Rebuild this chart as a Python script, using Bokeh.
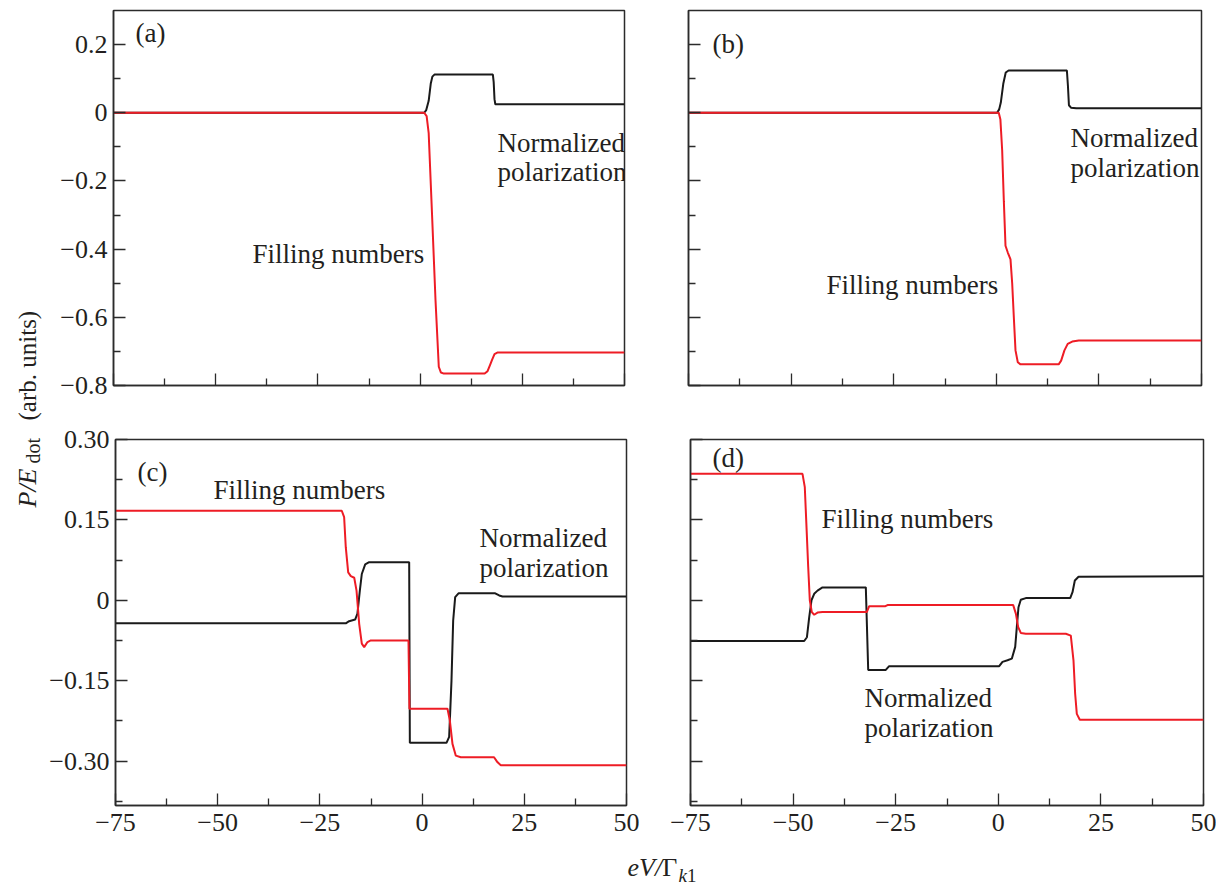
import math
from bokeh.plotting import figure
from bokeh.models import Range1d, FixedTicker, CustomJSTickFormatter, Label
from bokeh.layouts import row, column
from bokeh.embed import file_html
from bokeh.resources import INLINE

FONT = "Liberation Serif"
TXT = "#231f20"
RED = "#ee1c25"
BLK = "#1a1a1a"
FRAME = "#2b2b2b"

# ---------------- data ----------------
x_ticks = [-75, -50, -25, 0, 25, 50]
x_minor = [-62.5, -37.5, -12.5, 12.5, 37.5]
top_y_ticks = [-0.8, -0.6, -0.4, -0.2, 0.0, 0.2]
top_y_minor = [-0.7, -0.5, -0.3, -0.1, 0.1]
bot_y_ticks = [-0.30, -0.15, 0.0, 0.15, 0.30]
bot_y_minor = [-0.375, -0.225, -0.075, 0.075, 0.225]

# panel (a)
a_black_x = [-75, 1.0, 1.5, 2.1, 2.6, 3.0, 3.5, 17.8, 18.0, 18.2, 18.4, 50]
a_black_y = [0, 0, 0.008, 0.035, 0.085, 0.106, 0.112, 0.112, 0.09, 0.04, 0.025, 0.025]
a_red_x = [-75, 1.0, 1.6, 2.1, 2.96, 3.77, 4.57, 5.1, 5.8, 15.8, 16.5, 17.1, 17.6, 18.2, 19.0, 50]
a_red_y = [0, 0, -0.01, -0.06, -0.31, -0.55, -0.745, -0.762, -0.765, -0.765, -0.758, -0.74,
           -0.725, -0.708, -0.703, -0.703]

# panel (b)
b_black_x = [-75, 0.2, 0.7, 1.1, 1.7, 2.3, 3.0, 17.2, 17.45, 17.7, 18.2, 19.5, 50]
b_black_y = [0, 0, 0.01, 0.03, 0.085, 0.118, 0.124, 0.124, 0.08, 0.022, 0.015, 0.013, 0.013]
b_red_x = [-75, 0.6, 1.0, 1.43, 1.84, 2.24, 2.8, 3.46, 3.87, 4.27, 4.68, 5.24, 5.9, 15.2, 15.8,
           16.6, 17.4, 18.5, 20.1, 50]
b_red_y = [0, 0, -0.02, -0.11, -0.26, -0.39, -0.41, -0.43, -0.5, -0.6, -0.697, -0.732, -0.738,
           -0.738, -0.727, -0.697, -0.678, -0.671, -0.668, -0.668]

# panel (c)
c_black_x = [-75, -18.67, -17.85, -16.38, -15.82, -15.23, -14.75, -13.92, -12.95, -3.16, -3.0,
             5.97, 6.62, 7.19, 7.6, 8.09, 8.9, 17.88, 18.86, 19.67, 50]
c_black_y = [-0.043, -0.043, -0.039, -0.036, -0.025, 0.018, 0.049, 0.067, 0.071, 0.071, -0.266,
             -0.266, -0.255, -0.15, -0.038, 0.006, 0.013, 0.013, 0.009, 0.007, 0.007]
c_red_x = [-75, -19.65, -19.07, -18.67, -18.08, -17.44, -16.6, -16.04, -15.39, -14.75, -14.17,
           -13.36, -12.55, -3.33, -3.1, 6.21, 6.78, 7.43, 8.25, 9.47, 17.6, 18.41, 19.25, 50]
c_red_y = [0.167, 0.167, 0.155, 0.099, 0.052, 0.045, 0.042, 0.018, -0.044, -0.081, -0.0875,
           -0.078, -0.075, -0.075, -0.2025, -0.2025, -0.224, -0.268, -0.29, -0.293, -0.293,
           -0.302, -0.308, -0.308]

# panel (d)
d_black_x = [-75, -47.3, -46.63, -46.08, -45.52, -44.86, -44.05, -42.84, -32.28, -31.7, -27.41,
             -26.6, 0.22, 1.02, 2.24, 3.29, 4.12, 4.51, 4.92, 5.48, 6.7, 17.52, 18.08, 18.65,
             19.55, 50]
d_black_y = [-0.076, -0.076, -0.069, -0.032, 0.0, 0.012, 0.018, 0.024, 0.024, -0.13, -0.13,
             -0.123, -0.123, -0.115, -0.112, -0.109, -0.087, -0.05, -0.013, 0.001, 0.004, 0.004,
             0.015, 0.037, 0.044, 0.045]
d_red_x = [-75, -47.71, -47.15, -46.73, -46.32, -45.93, -45.44, -44.86, -44.05, -42.84, -32.04,
           -31.46, -27.5, -27.0, 3.63, 4.28, 4.85, 5.48, 6.7, 16.45, 17.67, 18.32, 18.73, 19.13,
           19.86, 50]
d_red_y = [0.236, 0.236, 0.211, 0.136, 0.062, 0.0, -0.022, -0.027, -0.023, -0.022, -0.022,
           -0.011, -0.011, -0.009, -0.009, -0.025, -0.05, -0.061, -0.0625, -0.0625, -0.066,
           -0.112, -0.175, -0.212, -0.223, -0.223]

# ---------------- helpers ----------------
num_fmt = """
if (Math.abs(tick) < 1e-9) { return "0"; }
const s = Math.abs(tick).toFixed(digits);
return (tick < 0 ? "\\u2212" : "") + s;
"""


def make_fig(fw, fh, bl, br, bt, bb, yr, yt, ym, show_x, show_y, ydig):
    p = figure(frame_width=fw, frame_height=fh, min_border_left=bl, min_border_right=br,
               min_border_top=bt, min_border_bottom=bb,
               x_range=Range1d(-75, 50), y_range=Range1d(*yr),
               output_backend="svg", toolbar_location=None)
    p.xgrid.visible = False
    p.ygrid.visible = False
    p.outline_line_color = FRAME
    p.outline_line_width = 1.5
    p.outline_line_alpha = 1.0
    p.background_fill_color = "white"
    p.border_fill_color = "white"
    p.xaxis.ticker = FixedTicker(ticks=x_ticks, minor_ticks=x_minor)
    p.yaxis.ticker = FixedTicker(ticks=yt, minor_ticks=ym)
    if show_x:
        p.xaxis.formatter = CustomJSTickFormatter(args=dict(digits=0), code=num_fmt)
    else:
        p.xaxis.formatter = CustomJSTickFormatter(code="return '';")
    if show_y:
        p.yaxis.formatter = CustomJSTickFormatter(args=dict(digits=ydig), code=num_fmt)
    else:
        p.yaxis.formatter = CustomJSTickFormatter(code="return '';")
    for ax in (p.xaxis[0], p.yaxis[0]):
        ax.axis_line_color = FRAME
        ax.axis_line_width = 1.5
        ax.major_tick_line_color = FRAME
        ax.minor_tick_line_color = FRAME
        ax.major_tick_line_width = 1.3
        ax.minor_tick_line_width = 1.3
        ax.major_tick_in = 12
        ax.major_tick_out = 0
        ax.minor_tick_in = 7
        ax.minor_tick_out = 0
        ax.major_label_text_font = FONT
        ax.major_label_text_font_size = "26px"
        ax.major_label_text_color = TXT
    p.xaxis.major_label_standoff = 8
    p.yaxis.major_label_standoff = 6
    return p


def add_text(p, x, y, text, size="27px", style="normal", baseline="middle", angle=0.0):
    p.add_layout(Label(x=x, y=y, text=text, text_font=FONT,
                       text_font_size=size, text_font_style=style, text_color=TXT,
                       text_align="left", text_baseline=baseline, angle=angle))


def draw(p, bx, by, rx, ry):
    p.line(bx, by, line_color=BLK, line_width=2)
    p.line(rx, ry, line_color=RED, line_width=2)


def blank_fig(w, h):
    f = figure(width=w, height=h, x_range=Range1d(0, w), y_range=Range1d(0, h),
               min_border_left=0, min_border_right=0, min_border_top=0, min_border_bottom=0,
               x_axis_type=None, y_axis_type=None, output_backend="svg", toolbar_location=None)
    f.xgrid.visible = False
    f.ygrid.visible = False
    f.outline_line_color = None
    return f


# ---------------- panels ----------------
pa = make_fig(511, 375, 67, 32, 10, 32, (-0.8, 0.3), top_y_ticks, top_y_minor, False, True, 1)
pb = make_fig(513, 375, 32, 13, 10, 32, (-0.8, 0.3), top_y_ticks, top_y_minor, False, False, 1)
pc = make_fig(511, 366, 67, 32, 22, 40, (-0.383, 0.30), bot_y_ticks, bot_y_minor, True, True, 2)
pd = make_fig(513, 366, 32, 13, 22, 40, (-0.383, 0.30), bot_y_ticks, bot_y_minor, True, False, 2)

draw(pa, a_black_x, a_black_y, a_red_x, a_red_y)
draw(pb, b_black_x, b_black_y, b_red_x, b_red_y)
draw(pc, c_black_x, c_black_y, c_red_x, c_red_y)
draw(pd, d_black_x, d_black_y, d_red_x, d_red_y)

# panel annotations
add_text(pa, -69.62, 0.2326, "(a)")
add_text(pa, -41.0, -0.413, "Filling numbers")
add_text(pa, 18.93, -0.090, "Normalized")
add_text(pa, 18.93, -0.175, "polarization")

add_text(pb, -69.15, 0.203, "(b)")
add_text(pb, -41.37, -0.504, "Filling numbers")
add_text(pb, 18.08, -0.0736, "Normalized")
add_text(pb, 18.08, -0.163, "polarization")

add_text(pc, -69.62, 0.2389, "(c)")
add_text(pc, -51.03, 0.205, "Filling numbers")
add_text(pc, 14.04, 0.117, "Normalized")
add_text(pc, 14.04, 0.061, "polarization")

add_text(pd, -69.64, 0.2646, "(d)")
add_text(pd, -43.08, 0.151, "Filling numbers")
add_text(pd, -32.6, -0.183, "Normalized")
add_text(pd, -32.6, -0.239, "polarization")

# shared y-axis label strip (left), coordinates: x = page px, y = 845 - page py
py_strip = blank_fig(46, 845)
add_text(py_strip, 27, 338, "P/E", size="26px", style="italic", angle=math.pi / 2)
add_text(py_strip, 32.5, 382, "dot", size="20px", angle=math.pi / 2)
add_text(py_strip, 27, 425, "(arb. units)", size="25px", angle=math.pi / 2)

# shared x-axis label strip (bottom), coordinates: x = page px, y = 886 - page py
px_strip = blank_fig(1214, 41)
add_text(px_strip, 627, 19, "eV/", size="26px", style="italic", baseline="alphabetic")
add_text(px_strip, 661.7, 19, "\u0393", size="26px", baseline="alphabetic")
add_text(px_strip, 678, 11, "k", size="19px", style="italic", baseline="alphabetic")
add_text(px_strip, 686.5, 11, "1", size="19px", baseline="alphabetic")

grid = column(row(pa, pb, spacing=0), row(pc, pd, spacing=0), spacing=0)
layout = column(row(py_strip, grid, spacing=0), px_strip, spacing=0)

open("out.html", "w").write(file_html(layout, INLINE))
